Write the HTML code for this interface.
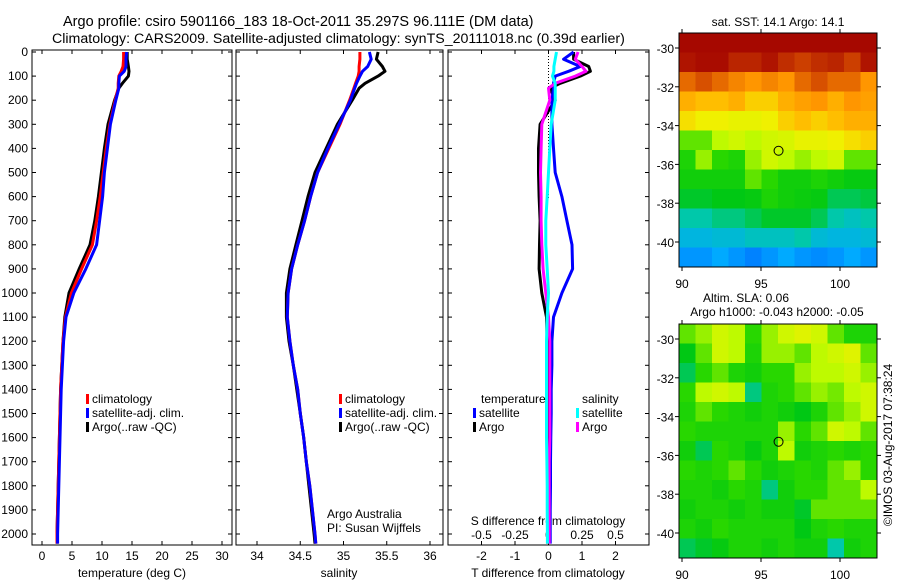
<!DOCTYPE html>
<html><head><meta charset="utf-8"><style>
body{margin:0;background:#fff}
svg{display:block;font-family:"Liberation Sans",sans-serif}
</style></head><body>
<svg id="c" width="900" height="580" viewBox="0 0 900 580">
<text x="63" y="26" font-size="14.5">Argo profile: csiro 5901166_183 18-Oct-2011 35.297S 96.111E (DM data)</text>
<text x="52" y="43" font-size="14.2">Climatology: CARS2009. Satellite-adjusted climatology: synTS_20111018.nc (0.39d earlier)</text>
<g id="g"></g>
</svg>
<script>
const depths=[0,30,60,80,100,130,150,200,300,400,500,600,700,800,900,1000,1100,1200,1300,1400,1500,1600,1700,1800,1900,2000,2040];
const tClim=[13.6,13.6,13.5,13.2,12.8,12.7,12.7,12.2,11.3,10.7,10.2,9.7,9.1,8.4,6.6,4.9,3.9,3.5,3.3,3.1,3.0,2.9,2.8,2.7,2.6,2.5,2.5];
const tSat=[14.1,14.0,14.0,13.7,12.9,12.8,12.8,12.3,11.4,10.9,10.4,10.1,9.6,9.1,7.3,5.3,4.0,3.6,3.4,3.2,3.1,3.0,2.9,2.8,2.7,2.6,2.6];
const tArgo=[14.2,14.2,14.4,14.5,14.4,13.4,12.8,12.1,11.0,10.4,9.9,9.4,8.8,8.0,6.2,4.5,3.8,3.5,3.3,3.1,3.0,2.9,2.8,2.7,2.6,2.5,2.5];
const sClim=[35.19,35.19,35.18,35.18,35.17,35.14,35.12,35.07,34.96,34.83,34.70,34.62,34.55,34.47,34.40,34.36,34.35,34.38,34.42,34.47,34.50,34.54,34.57,34.61,34.64,34.67,34.68];
const sSat=[35.30,35.32,35.28,35.22,35.19,35.15,35.13,35.08,34.95,34.82,34.70,34.62,34.55,34.47,34.40,34.36,34.35,34.38,34.42,34.47,34.50,34.54,34.57,34.61,34.64,34.67,34.68];
const sArgo=[35.40,35.38,35.45,35.48,35.40,35.25,35.18,35.10,34.93,34.80,34.67,34.59,34.52,34.45,34.38,34.34,34.34,34.37,34.42,34.46,34.50,34.54,34.57,34.60,34.63,34.66,34.67];
const dTSat=[0.75,0.45,0.95,0.6,0.2,0.15,0.15,0.1,0.1,0.15,0.2,0.4,0.55,0.7,0.72,0.4,0.15,0.1,0.1,0.08,0.08,0.07,0.06,0.06,0.05,0.05,0.05];
const dTArgo=[0.75,0.75,1.2,1.25,0.95,0.35,0.05,0.2,-0.25,-0.3,-0.3,-0.28,-0.25,-0.27,-0.28,-0.2,-0.06,-0.04,-0.03,-0.03,-0.03,-0.03,-0.03,-0.03,-0.03,-0.03,-0.03];
const dSSat=[0.06,0.05,0.04,0.04,0.03,0.05,0.05,0.05,0.02,0.01,0.0,-0.01,-0.02,-0.02,-0.01,0.0,-0.01,-0.015,-0.015,-0.015,-0.015,-0.015,-0.012,-0.01,-0.01,-0.008,-0.008];
const dSArgo=[0.22,0.2,0.25,0.28,0.2,0.05,0.0,0.01,-0.05,-0.055,-0.06,-0.055,-0.055,-0.05,-0.04,-0.02,0.0,0.01,0.01,0.01,0.01,0.01,0.005,0.005,0.005,0.005,0.005];
const depthTicks=[0,100,200,300,400,500,600,700,800,900,1000,1100,1200,1300,1400,1500,1600,1700,1800,1900,2000];
const tTicks=[0,5,10,15,20,25,30];
const sTicks=[34,34.5,35,35.5,36];
const sTickLabels=["34","34.5","35","35.5","36"];
const dTTicks=[-2,-1,0,1,2];
const dSTicks=[-0.5,-0.25,0,0.25,0.5];
const dSTickLabels=["-0.5","-0.25","0","0.25","0.5"];
const sstGrid=[
[.98,.98,.98,.98,.98,.98,.98,.98,.98,.98,.98,.98],
[.95,.97,.97,.93,.93,.95,.92,.90,.92,.93,.90,.95],
[.85,.88,.85,.82,.80,.82,.80,.85,.88,.85,.85,.80],
[.75,.72,.72,.75,.70,.70,.75,.78,.80,.75,.80,.78],
[.68,.66,.66,.65,.65,.66,.70,.72,.70,.72,.75,.75],
[.55,.55,.60,.62,.60,.62,.63,.65,.65,.66,.68,.70],
[.50,.58,.52,.50,.58,.62,.60,.58,.60,.62,.55,.55],
[.48,.48,.48,.48,.55,.52,.48,.48,.50,.48,.46,.46],
[.44,.44,.45,.45,.46,.50,.48,.47,.46,.42,.42,.43],
[.38,.38,.40,.40,.42,.44,.44,.44,.42,.38,.36,.38],
[.33,.33,.34,.34,.36,.36,.36,.38,.34,.33,.33,.34],
[.28,.28,.30,.28,.26,.28,.30,.28,.27,.28,.30,.28]];
const slaGrid=[
[.55,.58,.62,.60,.52,.58,.62,.64,.62,.55,.50,.50],
[.45,.55,.62,.60,.50,.58,.58,.55,.60,.62,.64,.55],
[.42,.52,.55,.50,.48,.52,.52,.58,.60,.60,.62,.58],
[.52,.60,.62,.60,.40,.50,.52,.55,.58,.56,.60,.62],
[.50,.55,.52,.50,.48,.50,.48,.45,.50,.55,.58,.62],
[.52,.50,.50,.50,.50,.50,.58,.52,.55,.62,.60,.55],
[.48,.42,.52,.50,.46,.50,.60,.48,.50,.52,.50,.52],
[.52,.50,.52,.55,.52,.48,.50,.52,.50,.55,.58,.52],
[.50,.50,.48,.52,.50,.40,.48,.52,.52,.55,.55,.60],
[.48,.50,.50,.48,.50,.48,.48,.44,.55,.55,.55,.55],
[.50,.48,.52,.50,.50,.50,.50,.45,.50,.52,.50,.50],
[.42,.44,.46,.50,.50,.48,.50,.48,.48,.38,.48,.50]];
const latTicks=[-30,-32,-34,-36,-38,-40];
const lonTicks=[90,95,100];
const argoLon=96.111, argoLat=-35.297;

const NS='http://www.w3.org/2000/svg';
const G=document.getElementById('g');
function mk(t,a,p){const e=document.createElementNS(NS,t);for(const k in a)e.setAttribute(k,a[k]);(p||G).appendChild(e);return e;}
function txt(x,y,s,o){const e=mk('text',Object.assign({x:x,y:y,'font-size':12},o||{}));e.textContent=s;return e;}
const Y=d=>52+d*0.241;
const TOP=50,BOT=545;
const panels=[{l:32,r:232},{l:236,r:443},{l:448,r:649}];
const xT=v=>42+v*6, xS=v=>257+(v-34)*86.5, xDT=v=>548.5+v*33.5, xDS=v=>548.5+v*134;

panels.forEach((p,i)=>{
  const r=mk('rect',{x:p.l,y:TOP,width:p.r-p.l,height:BOT-TOP,fill:'none',stroke:'#000'});
  
  
});
depthTicks.forEach(d=>{
  const t=txt(28,Y(d)+4,String(d),{'text-anchor':'end'});
  
  
  panels.forEach(p=>{mk('line',{x1:p.l,x2:p.l+4,y1:Y(d),y2:Y(d),stroke:'#000'});mk('line',{x1:p.r-4,x2:p.r,y1:Y(d),y2:Y(d),stroke:'#000'});});
});
function xticks(vals,labels,f,ly){vals.forEach((v,i)=>{const x=f(v);
  mk('line',{x1:x,x2:x,y1:BOT,y2:BOT-4,stroke:'#000'});mk('line',{x1:x,x2:x,y1:TOP,y2:TOP+4,stroke:'#000'});
  const t=txt(x,ly,labels[i],{'text-anchor':'middle'});
  
  });}
xticks(tTicks,tTicks.map(String),xT,560);
xticks(sTicks,sTickLabels,xS,560);
xticks(dTTicks,dTTicks.map(String),xDT,560);
dSTicks.forEach((v,i)=>{const t=txt(xDS(v),539,dSTickLabels[i],{'text-anchor':'middle'});
  
  });
txt(132,577,'temperature (deg C)',{'text-anchor':'middle'});
txt(339,577,'salinity',{'text-anchor':'middle'});
txt(548,577,'T difference from climatology',{'text-anchor':'middle'});
txt(548,525,'S difference from climatology',{'text-anchor':'middle'});
mk('line',{x1:548.5,x2:548.5,y1:TOP,y2:200,stroke:'#000','stroke-dasharray':'1,2'});

function series(vals,f,col,name){
  const pts=vals.map((v,i)=>f(v).toFixed(1)+','+Y(depths[i]).toFixed(1)).join(' ');
  const e=mk('polyline',{points:pts,fill:'none',stroke:col,'stroke-width':3,'stroke-linejoin':'round'});
  
  
}
series(tArgo,xT,'#000','temp-argo-line');series(tClim,xT,'#f00','temp-climatology-line');series(tSat,xT,'#00f','temp-satellite-line');
series(sArgo,xS,'#000','sal-argo-line');series(sClim,xS,'#f00','sal-climatology-line');series(sSat,xS,'#00f','sal-satellite-line');
series(dTArgo,xDT,'#000','tdiff-argo-line');series(dTSat,xDT,'#00f','tdiff-satellite-line');
series(dSArgo,xDS,'#f0f','sdiff-argo-line');series(dSSat,xDS,'#0ff','sdiff-satellite-line');

function legend(x,y,col,s,name){mk('rect',{x:x,y:y-9,width:3,height:10,fill:col});const t=txt(x+6,y,s);
  }
legend(86,403,'#f00','climatology','legend-climatology');legend(86,417,'#00f','satellite-adj. clim.','legend-satellite');legend(86,431,'#000','Argo(..raw -QC)','legend-argo');
legend(339,403,'#f00','climatology','legend2-climatology');legend(339,417,'#00f','satellite-adj. clim.','legend2-satellite');legend(339,431,'#000','Argo(..raw -QC)','legend2-argo');
txt(481,403,'temperature');
txt(582,403,'salinity');
legend(473,417,'#00f','satellite','legend3-t-satellite');legend(473,431,'#000','Argo','legend3-t-argo');
legend(576,417,'#0ff','satellite','legend3-s-satellite');legend(576,431,'#f0f','Argo','legend3-s-argo');
txt(327,518,'Argo Australia');
txt(327,532,'PI: Susan Wijffels');

const stops=[[0.2,0,70,255],[0.3,0,170,255],[0.38,0,200,170],[0.45,0,200,20],[0.52,40,215,0],[0.6,190,250,0],[0.66,240,240,0],[0.72,255,190,0],[0.8,255,150,0],[0.88,215,80,0],[0.95,175,20,0],[1,160,0,0]];
function cmap(v){if(v<=stops[0][0])return`rgb(${stops[0].slice(1)})`;for(let i=1;i<stops.length;i++){if(v<=stops[i][0]){const a=stops[i-1],b=stops[i],t=(v-a[0])/(b[0]-a[0]);return`rgb(${[1,2,3].map(k=>Math.round(a[k]+(b[k]-a[k])*t))})`;}}return'rgb(160,0,0)';}
function map(y0,grid,name){
  const L=679,R=877,T=y0,B=y0+234;
  const lonX=v=>682+(v-90)*15.8, latY=v=>y0+15+(-30-v)*19.4;
  const g=mk('g',{});
  const rows=grid.length,cols=grid[0].length,cw=(R-L)/cols,ch=(B-T)/rows;
  grid.forEach((row,r)=>row.forEach((v,c)=>{const e=mk('rect',{x:L+c*cw,y:T+r*ch,width:cw+0.5,height:ch+0.5,fill:cmap(v)},g);
    }));
  mk('rect',{x:L,y:T,width:R-L,height:B-T,fill:'none',stroke:'#000'});
  latTicks.forEach(v=>{const y=latY(v);mk('line',{x1:L,x2:L-4,y1:y,y2:y,stroke:'#000'});mk('line',{x1:R,x2:R+4,y1:y,y2:y,stroke:'#000'});
    const t=txt(674,y+5,String(v),{'text-anchor':'end'});});
  lonTicks.forEach(v=>{const x=lonX(v);mk('line',{x1:x,x2:x,y1:B,y2:B+4,stroke:'#000'});mk('line',{x1:x,x2:x,y1:T,y2:T-4,stroke:'#000'});
    const t=txt(x,B+21,String(v),{'text-anchor':'middle'});});
  const c=mk('circle',{cx:lonX(argoLon),cy:latY(argoLat),r:4.5,fill:'none',stroke:'#000'});
  
}
map(33,sstGrid,'sst-map');
map(324,slaGrid,'sla-map');
txt(778,26,'sat. SST: 14.1 Argo: 14.1',{'text-anchor':'middle'});
txt(746,302,'Altim. SLA: 0.06',{'text-anchor':'middle'});
txt(777,316,'Argo h1000: -0.043 h2000: -0.05',{'text-anchor':'middle'});
const cr=txt(0,0,'©IMOS 03-Aug-2017 07:38:24',{'text-anchor':'middle',transform:'translate(892,445) rotate(-90)'});

</script>
</body></html>
